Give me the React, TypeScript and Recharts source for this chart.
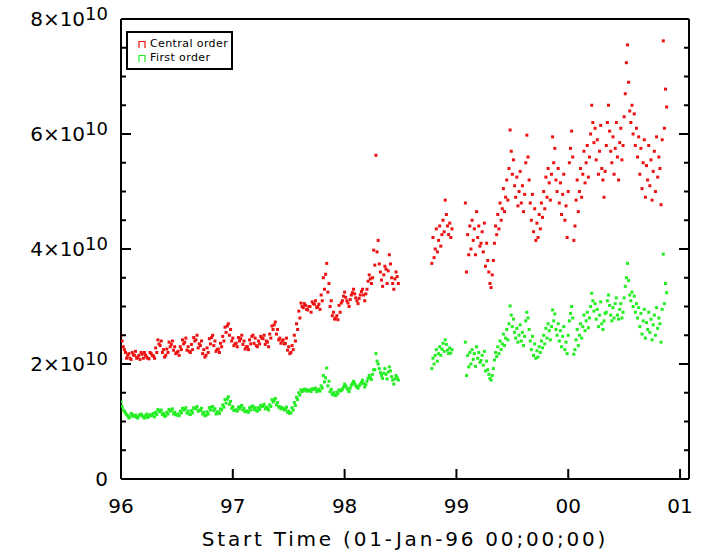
import { ScatterChart, Scatter, XAxis, YAxis, Legend, Label } from "recharts";

const FONT = "'DejaVu Sans', sans-serif";
const RED = "#ee1111";
const GREEN = "#22ee22";

// Times are years since 01-Jan-96, values are in units of 1e9.
// Segment A: 96.00 - 98.48, sampled every 0.02 yr
const startA = 0;
const stepA = 0.02;
const redA = [
  25, 23, 22,
  21.5, 21, 22, 21.5, 21, 21.5, 22, 21, 21.5, 21, 22, 21.5, 21,
  22, 23.5, 24, 22.5, 21.5,
  22, 23, 24, 23, 22, 21.5, 22.5, 23.5, 24.5, 23, 22, 22.5, 24, 25, 23.5,
  24, 22.5, 21.5, 22, 23.5, 25, 24, 22.5, 22, 23,
  24, 25.5, 27, 26, 24.5, 23.5, 23,
  24, 25, 24, 23, 22.5, 23.5, 25, 24.5, 23, 23.5, 24.5, 25, 24, 23, 24.5,
  26, 27.3, 26, 24.5,
  24, 23.5, 24.5, 23, 22,
  22.5, 24, 26, 28, 30,
  30.5, 29.5, 30, 29, 30.5, 31, 30, 29.5, 31, 33, 37.5,
  34, 31, 29, 28, 27.7, 29,
  31, 32.5, 31, 30, 32, 33, 31.5, 30.5, 32, 33,
  31, 33, 35.5, 34, 39.8, 56.3, 41.5, 36, 33.5,
  37, 34, 39, 35, 33, 36, 34,
];
const greenA = [
  13.4, 12, 11.5,
  11, 10.8, 11.2, 11, 10.7, 11, 11.3, 10.8, 11, 10.7, 11.2, 11, 10.8,
  11.2, 11.8, 12, 11.4, 11,
  11.3, 11.8, 12.2, 11.6, 11.1, 11, 11.5, 12, 12.4, 11.8, 11.2, 11.5, 12.2, 12.6, 12,
  12.3, 11.6, 11.1, 11.3, 12, 12.6, 12.2, 11.6, 11.4, 12,
  12.5, 13.2, 14.3, 13.5, 12.6, 12, 11.8,
  12.2, 12.8, 12.3, 11.8, 11.6, 12, 12.7, 12.4, 11.8, 12.1, 12.6, 13, 12.5, 12, 12.6,
  13.4, 14, 13.3, 12.6,
  12.4, 12, 12.5, 11.8, 11.5,
  12, 12.8, 13.8, 14.6, 15.2,
  15.6, 15.3, 15.5, 15.2, 15.6, 15.8, 15.4, 15.3, 15.8, 16.9, 19.3,
  17, 15.6, 15, 14.5, 14.8, 15.3,
  15.6, 16.5, 15.8, 15.2, 16.3, 17, 16.2, 15.8, 16.5, 17.2,
  16, 17, 18, 17.3, 19, 21.8, 20, 18.5, 17.5,
  19.2, 17.4, 19.5, 17.8, 16.5, 18, 17.2,
];

// Segment A', the in-between samples: 96.01 - 98.47, every 0.02 yr
const startA2 = 0.01;
const stepA2 = 0.02;
const redA2 = [
  24, 22.5,
  21, 21.8, 20.8, 21.6, 22.2, 21.2, 20.8, 21.7, 22, 21.2, 20.9, 21.8, 21.4,
  22.8, 24.2, 23.2, 22, 21.2,
  22.6, 23.8, 23.4, 22.4, 21.8, 22.2, 23, 24.2, 23.8, 22.4, 22.2, 23.4, 24.6, 24.2, 22.8,
  23.2, 21.8, 21.2, 22.8, 24.4, 24.6, 23.2, 22.2, 22.6, 23.6,
  24.8, 26.4, 26.6, 25, 24, 23.2, 23.6,
  24.6, 24.4, 23.4, 22.6, 23, 24.2, 24.8, 23.6, 23.2, 24, 24.8, 24.4, 23.4, 23.8, 25.2,
  26.6, 26.8, 25.2, 24.2,
  23.6, 24.2, 23.6, 22.4, 21.8,
  23.2, 25, 27, 29.2, 30.6,
  29.8, 30.2, 29.4, 30, 30.8, 30.4, 29.8, 30.4, 32, 35, 35.6,
  32.5, 30, 28.4, 27.8, 28.4, 30.2,
  30.6, 31.8, 31.6, 30.6, 31.2, 32.4, 32.2, 31, 31.4, 32.6,
  32, 32.2, 34.4, 34.8, 35, 37.2, 39.5, 37.4, 34.6,
  35.5, 36.5, 36.2, 37.4, 34, 34.8, 35.2,
];
const greenA2 = [
  12.6, 11.8,
  11.2, 10.6, 11.4, 10.9, 11.1, 10.6, 11.2, 11, 10.6, 11.3, 10.9, 11.1, 11.4,
  11.6, 12.1, 11.7, 11.2, 10.9,
  11.6, 12.1, 11.9, 11.3, 11.2, 11.3, 11.8, 12.3, 12.1, 11.5, 11.3, 11.9, 12.4, 12.3, 11.8,
  11.9, 11.3, 11, 11.7, 12.4, 12.5, 11.9, 11.3, 11.7, 12.2,
  12.9, 13.8, 13.9, 13, 12.3, 11.9, 12,
  12.5, 12.6, 12, 11.7, 11.8, 12.4, 12.6, 12.1, 11.9, 12.4, 12.8, 12.7, 12.2, 12.3, 12.9,
  13.8, 13.7, 12.9, 12.5,
  12.2, 12.3, 12.1, 11.6, 11.4,
  12.4, 13.3, 14.2, 15, 15.5,
  15.4, 15.6, 15.3, 15.4, 15.7, 15.6, 15.2, 15.6, 16.2, 18, 17.6,
  16.2, 15.2, 14.7, 14.6, 15.1, 15.5,
  15.4, 16, 16.2, 15.5, 15.8, 16.6, 16.6, 16, 16.2, 16.8,
  16.6, 16.4, 17.5, 17.6, 18.2, 19, 20.5, 19.2, 18,
  18.4, 18.2, 18.6, 18.8, 17.2, 17.4, 17.6,
];

// Segment B: 98.78 - 98.96, every 0.01 yr
const startB = 2.78;
const stepB = 0.01;
const redB = [
  37.5, 42, 38.5, 40, 43.5, 39.5, 41.5, 44, 40.5, 42.5,
  45, 43, 48.5, 46, 44, 42.5, 44.5, 42, 43.5,
];
const greenB = [
  19.2, 21, 20, 21.5, 22.5, 20.5, 21.8, 23, 21.5, 22.6,
  23.6, 22.2, 24.2, 23.4, 22.4, 21.8, 22.8, 21.9, 22.5,
];

// Segment C: 99.08 - 00.88, every 0.01 yr
const startC = 3.08;
const stepC = 0.01;
const redC = [
  48, 36, 42.5, 39, 44,
  40, 45, 41.5, 43.5, 39, 46.5, 42, 44, 40.5, 41,
  43, 39.5, 44.5, 37, 41, 38, 36, 34, 33.3, 35.5, 38,
  41, 44, 42.5, 46, 43.5, 48, 45, 47, 50.5, 46.5, 49, 52, 48.5, 54,
  60.7, 57, 53, 55.5, 51,
  49, 52.5, 47.5, 50, 53.5, 48, 51, 46.5, 49.5, 55,
  59.8, 56, 52, 48,
  45, 49.5, 43, 47, 41.5, 44.5, 42, 46, 43.5, 48, 45.5,
  50, 47, 52.5, 49, 54, 51.5, 48.5, 53,
  59.5, 55, 57.5, 52, 50,
  54, 48, 51.5, 46, 49.5, 53, 45, 47.5, 42,
  50, 55, 57.5, 60.5, 56,
  41.5, 44, 48.5, 52, 46.5, 50, 54, 49,
  53, 57, 51.5, 55, 58, 52.5, 56,
  60, 65, 62, 58.5, 61,
  55.5, 59, 53, 57, 61.5, 54, 52, 49, 53.5,
  58, 62, 65, 60.5, 57,
  55, 59.5, 53, 57.5, 62, 56, 52, 58.5, 61, 55.5,
  58, 63, 67, 72.4, 75.5, 69, 64,
  62, 65, 60, 63.5, 58, 61, 56, 59.5,
  53, 57.5, 50.5, 55, 59, 49, 54.5, 52, 58, 51, 55.5,
  48.5, 53.5, 57, 50, 59.5, 52.5, 56,
  54, 47.7, 59, 76.2, 61, 67.8, 64.7,
];
const greenC = [
  23.8, 18, 21.5, 19.5, 22,
  20, 22.5, 20.8, 21.8, 19.6, 23, 21, 22, 20.3, 20.6,
  21.5, 19.8, 22.2, 18.8, 20.5, 19, 18.2, 17.5, 17.2, 18, 19.2,
  20.7, 22, 21.3, 23, 21.8, 24, 22.5, 23.5, 25.2, 23.2, 24.5, 26, 24.2, 27,
  30.1, 28.5, 26.5, 27.8, 25.5,
  24.5, 26.2, 23.8, 25, 26.8, 24, 25.5, 23.2, 24.8, 27.5,
  29, 28, 26, 24,
  22.5, 24.8, 21.5, 23.5, 21, 22.3, 21.2, 23, 22, 24, 22.8,
  25, 23.5, 26.2, 24.5, 27, 25.8, 24.2, 26.5,
  29.4, 27.5, 28.7, 26, 25,
  27, 24, 25.8, 23, 24.8, 26.5, 22.5, 23.8, 21.8,
  25, 27.5, 28.8, 30, 28,
  21.7, 22.5, 24.2, 26, 23.2, 25, 27, 24.5,
  26.5, 28.5, 25.8, 27.5, 29, 26.3, 28,
  30, 32.3, 31, 29.2, 30.5,
  27.8, 29.5, 26.5, 28.5, 30.8, 27, 26, 27.5, 28.8,
  29, 31, 32, 30.2, 28.5,
  27.5, 29.8, 28, 30.5, 31.5, 28.5, 27.8, 29.5, 30.5, 28,
  29, 31.5, 33.5, 35, 37.5, 34.5, 32,
  31, 32.5, 30, 31.8, 29, 30.5, 28, 29.8,
  26.5, 28.8, 25.2, 27.5, 29.5, 24.5, 27.2, 26, 29, 25.5, 27.8,
  24.2, 26.8, 28.5, 25, 29.8, 26.2, 28,
  27, 23.8, 29.5, 39.1, 30.5, 34, 32.4,
];

const xTicks = [0, 1, 2, 3, 4, 5];
const xTickLabels = ["96", "97", "98", "99", "00", "01"];
const yTicks = [0, 0.5, 1, 1.5, 2, 2.5, 3, 3.5, 4, 4.5, 5, 5.5, 6, 6.5, 7, 7.5, 8]; // x 1e10

const legendItems = [
  { name: "Central order", color: RED },
  { name: "First order", color: GREEN },
];

function toPoints(start: number, step: number, vals: number[]) {
  return vals.map((v, i) => ({ t: +(start + i * step).toFixed(3), v: v * 1e9 }));
}

const redData = [
  ...toPoints(startA, stepA, redA),
  ...toPoints(startA2, stepA2, redA2),
  ...toPoints(startB, stepB, redB),
  ...toPoints(startC, stepC, redC),
];
const greenData = [
  ...toPoints(startA, stepA, greenA),
  ...toPoints(startA2, stepA2, greenA2),
  ...toPoints(startB, stepB, greenB),
  ...toPoints(startC, stepC, greenC),
];

const dot = (color: string) => (props: any) =>
  <rect x={props.cx - 1.5} y={props.cy - 1.5} width={3} height={3} fill={color} />;

const isMajorY = (value: number) => Math.round(value / 5e9) % 4 === 0;

function LeftTick({ x, y, payload }: any) {
  const major = isMajorY(payload.value);
  const n = Math.round(payload.value / 1e10);
  return (
    <g>
      <line x1={x} x2={x + (major ? 10 : 5)} y1={y} y2={y} stroke="#000" strokeWidth={2} />
      {major && (
        <text x={x - 13} y={y + 7} textAnchor="end" fontFamily={FONT} fontSize={20} fill="#000">
          {n === 0 ? "0" : `${n}×10`}
          {n !== 0 && <tspan dy={-6} fontSize={18}>10</tspan>}
        </text>
      )}
    </g>
  );
}

function RightTick({ x, y, payload }: any) {
  const major = isMajorY(payload.value);
  return <line x1={x} x2={x - (major ? 10 : 5)} y1={y} y2={y} stroke="#000" strokeWidth={2} />;
}

function BottomTick({ x, y, payload }: any) {
  return (
    <g>
      <line x1={x} x2={x} y1={y} y2={y - 10} stroke="#000" strokeWidth={2} />
      <text x={x} y={y + 34} textAnchor="middle" fontFamily={FONT} fontSize={20} fill="#000">
        {xTickLabels[xTicks.indexOf(payload.value)]}
      </text>
    </g>
  );
}

function TopTick({ x, y }: any) {
  return <line x1={x} x2={x} y1={y} y2={y + 10} stroke="#000" strokeWidth={2} />;
}

function renderTitle(props: any) {
  const vb = props.viewBox || { x: 121, y: 479, width: 568, height: 73 };
  return (
    <text
      x={vb.x + vb.width / 2}
      y={vb.y + vb.height - 6}
      textAnchor="middle"
      fontFamily={FONT}
      fontSize={20}
      letterSpacing={2.8}
      fill="#000"
    >
      Start Time (01-Jan-96 00;00;00)
    </text>
  );
}

function LegendBox() {
  return (
    <div
      style={{
        boxSizing: "border-box",
        width: 107,
        height: 39,
        border: "2px solid #000",
        background: "#fff",
        padding: "4px 0 0 10px",
        fontFamily: FONT,
        fontSize: 11,
        letterSpacing: 0.4,
        lineHeight: "14px",
        color: "#000",
        textAlign: "left",
      }}
    >
      {legendItems.map((item) => (
        <div key={item.name} style={{ display: "flex", alignItems: "center", height: 14 }}>
          <svg width={8} height={8} style={{ marginRight: 4 }}>
            <path d="M1 8V1.5H7V8" fill="none" stroke={item.color} strokeWidth={1.2} />
          </svg>
          <span>{item.name}</span>
        </div>
      ))}
    </div>
  );
}

export default function App() {
  const axisLine = { stroke: "#000", strokeWidth: 2 };
  return (
    <div style={{ position: "absolute", left: 0, top: 0, width: 704, height: 552, background: "#fff" }}>
      <ScatterChart width={704} height={552} margin={{ top: 0, right: 0, bottom: 0, left: 0 }}>
        <XAxis
          type="number"
          dataKey="t"
          domain={[0, 5.08]}
          allowDataOverflow
          ticks={xTicks}
          interval={0}
          height={73}
          tickSize={0}
          tickMargin={0}
          tickLine={false}
          axisLine={axisLine}
          tick={BottomTick}
        >
          <Label content={renderTitle} />
        </XAxis>
        <XAxis
          xAxisId="top"
          orientation="top"
          type="number"
          domain={[0, 5.08]}
          allowDataOverflow
          ticks={xTicks}
          interval={0}
          height={19}
          tickSize={0}
          tickMargin={0}
          tickLine={false}
          axisLine={axisLine}
          tick={TopTick}
        />
        <YAxis
          type="number"
          dataKey="v"
          domain={[0, 8e10]}
          allowDataOverflow
          ticks={yTicks.map((v) => v * 1e10)}
          interval={0}
          width={121}
          tickSize={0}
          tickMargin={0}
          tickLine={false}
          axisLine={axisLine}
          tick={LeftTick}
        />
        <YAxis
          yAxisId="right"
          orientation="right"
          type="number"
          domain={[0, 8e10]}
          allowDataOverflow
          ticks={yTicks.map((v) => v * 1e10)}
          interval={0}
          width={15}
          tickSize={0}
          tickMargin={0}
          tickLine={false}
          axisLine={axisLine}
          tick={RightTick}
        />
        <Legend
          layout="vertical"
          align="center"
          verticalAlign="middle"
          content={LegendBox}
          wrapperStyle={{ left: 126, top: 31, width: "auto" }}
        />
        <Scatter name="Central order" data={redData} fill={RED} shape={dot(RED)} isAnimationActive={false} />
        <Scatter name="First order" data={greenData} fill={GREEN} shape={dot(GREEN)} isAnimationActive={false} />
      </ScatterChart>
    </div>
  );
}
